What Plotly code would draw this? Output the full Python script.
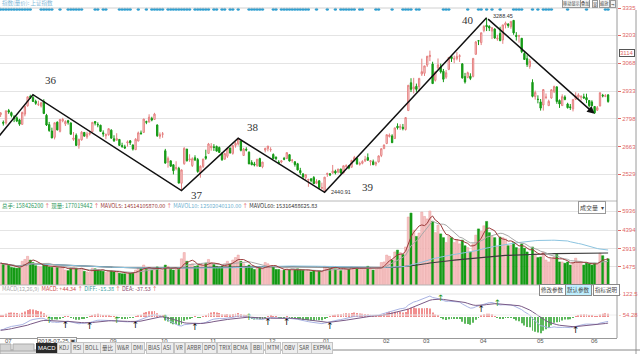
import plotly.graph_objects as go
import pandas as pd
import numpy as np

# ---------------- DATA (Shanghai Composite, 2018-07-10 .. 2019-06-14) ----------------
open_ = [
 2818,2781,2778,2838,2828,2808,2803,2793,2771,2821,2861,2906,2901,2883,2868,2860,
 2882,2815,2770,2739,2708,2782,2737,2788,2773,2789,2778,2698,2718,2670,2696,2732,2710,2724,2736,2785,2771,2767,2730,
 2716,2721,2743,2701,2694,2698,2668,2662,2681,2691,2671,2648,2690,2729,2732,2785,2782,2800,2795,
 2768,2713,2723,2643,2587,2594,2575,2557,2558,2485,2580,2651,2599,2571,2609,2600,2537,2567,
 2615,2630,2658,2662,2664,2659,2630,2602,2616,2656,2630,2669,2677,2690,2620,2650,2636,2586,2579,2571,2605,2565,
 2646,2653,2647,2625,2612,2588,2588,2606,2605,2624,2596,2589,2580,2547,2530,2512,2500,2507,2513,2485,
 2497,2461,2446,2528,2531,2535,2544,2540,2554,2535,2567,2570,2563,2596,2606,2577,2582,2594,2610,2590,2590,2578,
 2589,2620,2653,2678,2712,2715,2702,2762,2755,2757,2746,2838,2973,2943,2956,
 2954,3015,3019,3059,3100,3064,2985,3045,3049,3029,3000,3038,3100,3087,3090,3101,3065,3003,2999,3005,3004,
 3111,3177,3168,3227,3252,3247,3224,3234,3186,3212,3181,3253,3258,3245,3276,3203,3200,3189,3115,3090,3052,
 2975,2906,2893,2880,2865,2902,2862,2899,2930,2953,2887,2862,2904,2870,2856,2846,2893,2903,2904,2905,
 2901,2887,2880,2858,2840,2860,2912,2907,2914]
high = [
 2830,2790,2837,2846,2833,2816,2810,2798,2833,2862,2905,2915,2915.3,2891,2886,2879,
 2893,2822,2783,2755,2779,2785,2796,2803,2791,2793,2780,2734,2727,2702,2739,2734,2735,2740,2781,2786,2781,2769,2742,
 2727,2752,2747,2718,2728,2700,2682,2672,2693,2695,2674,2704,2736,2741,2798,2789,2820,2808,2827,
 2771,2732,2734,2652,2615,2595,2577,2592,2565,2552,2660,2652,2626,2611,2621,2608,2572,2603,
 2648,2681,2680,2675,2668,2663,2636,2633,2657,2658,2670,2686,2703.5,2691,2657,2660,2640,2597,2589,2602,2609,2589,
 2658,2666,2660,2630,2615,2597,2598,2613,2635,2625,2603,2593,2584,2560,2535,2528,2506,2508,2520,2505,
 2500,2488,2515,2536,2535,2574,2551,2555,2556,2571,2577,2574,2599,2618,2607,2590,2597,2618,2630,2597,2600,2591,
 2620,2654,2673,2721,2727,2723,2755,2776,2772,2773,2806,2961,2995,2997,2969,
 2997,3090,3055,3103,3129,3075,3027,3091,3066,3040,3035,3097,3106,3105,3122,3111,3067,3021,3027,3019,3094,
 3176,3180,3216,3252,3288.45,3252,3242,3237,3206,3245,3254,3270,3262,3271,3276,3219,3206,3190,3122,3107,3089,
 2990,2935,2912,2894,2942,2921,2891,2942,2959,2956,2892,2917,2912,2876,2870,2892,2927,2922,2913,2920,
 2920,2888,2888,2860,2860,2925,2919,2918,2918]
low = [
 2807,2765,2770,2822,2805,2782,2782,2764,2770,2810,2857,2895,2880,2866,2860,2853,
 2821,2763,2735,2704,2698,2742,2732,2781,2763,2770,2721,2691,2666,2653,2692,2711,2701,2717,2734,2766,2757,2735,2711,
 2699,2716,2703,2686,2692,2667,2657,2652,2663,2671,2644,2647,2689,2720,2729,2772,2781,2786,2793,
 2710,2701,2706,2580,2561,2565,2528,2548,2484,2449.2,2575,2591,2589,2564,2593,2536,2512,2559,
 2599,2627,2643,2642,2640,2632,2594,2600,2608,2630,2624,2658,2668,2640,2618,2640,2578,2573,2567,2565,2566,2558,
 2635,2640,2638,2603,2596,2578,2582,2597,2603,2591,2585,2566,2547,2526,2505,2501,2468,2490,2482,2481,
 2456,2455,2440.91,2516,2520,2531,2528,2533,2532,2533,2560,2553,2562,2591,2575,2571,2577,2588,2595,2571,2575,2568,
 2586,2612,2652,2675,2707,2681,2700,2746,2744,2742,2741,2838,2928,2921,2929,
 2931,3006,3006,3050,3078,2969,2979,3037,3018,2976,2992,3034,3074,3068,3082,3074,2993,2969,2995,2986,2999,
 3110,3156,3156,3218,3224,3224,3185,3187,3177,3177,3162,3237,3240,3235,3206,3178,3168,3117,3085,3050,3041,
 2902,2891,2873,2838,2838,2893,2860,2895,2923,2871,2851,2861,2888,2848,2841,2834,2889,2896,2887,2895,
 2874,2853,2860,2822,2836,2859,2902,2903,2876]
close = [
 2827,2777,2837,2831,2814,2798,2787,2772,2829,2859,2905,2903,2882,2873,2869,2876,
 2824,2768,2741,2705,2779,2744,2795,2795,2785,2781,2723,2705,2669,2698,2733,2714,2724,2729,2781,2777,2769,2737,2725,
 2721,2750,2704,2691,2702,2669,2664,2656,2686,2682,2651,2699,2730,2727,2797,2781,2806,2792,2821,
 2716,2721,2725,2583,2606,2568,2546,2561,2486,2550,2655,2594,2603,2604,2598,2542,2568,2603,
 2606,2676,2665,2659,2641,2635,2599,2630,2655,2632,2668,2679,2703,2645,2651,2646,2579,2575,2574,2602,2567,2588,
 2654,2666,2649,2605,2605,2584,2594,2602,2634,2593,2597,2576,2550,2536,2516,2527,2504,2498,2483,2494,
 2465,2464,2515,2533,2526,2545,2535,2554,2535,2570,2570,2559,2596,2610,2579,2581,2591,2601,2597,2594,2575,2585,
 2618,2653,2671,2721,2719,2682,2754,2755,2761,2751,2804,2961,2941,2953,2941,
 2994,3027,3055,3102,3106,2969,3026,3060,3026,2990,3022,3096,3090,3090,3101,3104,2997,2977,3022,2994,3091,
 3171,3176,3216,3247,3245,3239,3241,3190,3189,3177,3254,3263,3251,3271,3215,3198,3201,3124,3086,3062,3078,
 2907,2926,2892,2850,2940,2903,2883,2939,2955,2882,2870,2906,2892,2852,2853,2892,2909,2914,2905,2899,
 2890,2862,2861,2827,2852,2925,2909,2910,2882]
volume = [
 1750,1640,1580,1590,1420,1380,1350,1380,1900,2050,2300,2000,1800,1550,1480,1450,
 1650,1600,1450,1420,1550,1400,1380,1450,1200,1150,1300,1450,1350,1200,1350,1100,1050,1000,1350,1300,1200,1150,1100,
 1000,1150,1150,1050,1050,950,900,900,1000,950,950,1200,1400,1300,1600,1250,1400,1200,1350,
 1450,1200,1150,1600,1500,1250,1200,1300,1250,2100,2600,1900,1650,1700,1500,1550,1650,1550,
 1750,2050,1800,1650,1500,1450,1500,1700,1900,1700,2000,2200,2400,1900,1700,1500,1600,1350,1250,1350,1350,1300,
 1800,1700,1550,1450,1250,1250,1150,1200,1300,1200,1150,1200,1300,1250,1200,1100,1200,1050,1150,1100,
 1100,1050,1500,1450,1300,1500,1300,1250,1150,1350,1300,1250,1450,1400,1350,1250,1250,1350,1500,1250,1200,1250,
 1350,1800,1850,2400,2300,2000,2650,2800,2600,2450,3050,5450,5770,4400,3900,
 4170,5850,5500,5300,5936,5100,4200,4800,4100,3800,3400,3900,3800,3400,3650,3300,3600,3150,3000,2650,3300,
 4000,4500,4300,4750,5100,4200,3900,3800,3100,3850,3800,3700,3150,3200,3400,3000,2900,3300,2950,2650,2300,
 3050,2500,2200,2250,2650,2000,1850,2100,2250,2450,1850,1850,1750,1850,1600,1800,2150,1800,1750,1600,
 1800,1700,1600,1750,1650,2550,2350,1900,2100]
# closes before the first shown day (2018-05-28 .. 2018-07-09), used only to warm up the MACD
warmup_close = [3141,3120,3041,3095,3075,3091,3114,3115,3109,3067,3052,3079,3049,3044,3021,
                2907,2915,2875,2889,2859,2844,2813,2786,2847,2775,2786,2759,2733,2747,2815]

month_tick_idx = [0, 39, 58, 76, 98, 118, 140, 155, 176, 197, 217]
month_tick_text = ["07", "09", "10", "11", "12", "01", "02", "03", "04", "05", "06"]
price_ticks = [2529, 2663, 2798, 2933, 3068, 3203, 3335]
vol_ticks = [1475, 2919, 4394, 5936]

# zigzag wave pivots (index, price, wave number)
pivot_idx = [-2, 12, 67, 88, 120, 180, 220]
pivot_price = [2691.0, 2915.3, 2449.2, 2703.5, 2440.91, 3288.45, 2822.0]
pivot_label = ["", "36", "37", "38", "39", "40", ""]

# event-marker dots along the top
dot_idx = list(range(0, 12)) + [15,16,17,18,19,22,25,26,27,28,29,30,35,36,38,39,44,45,46,47,48,51,54,
           56,57,58,59,60,62,63,64,65,66,67,68,69,70,72,73,74,75,76,77,79,80,82,83,85,86,88,
           92,93,94,95,96,97,101,102,104,105,106,107,108,109,110,111,112,113,114,117,121,124,
           126,127,128,129,130,131,133,134,139,140,145,149,150,151,152,154,155,164,165,166,173,
           177,178,180,182,185,190,191,192,193,197,199,201,202,203,204,210,217,224,225]

N = len(close)
idx = list(range(N))

# ---------------- derived series ----------------
allc = pd.Series(warmup_close + close, dtype=float)
ema12 = allc.ewm(span=12, adjust=False).mean()
ema26 = allc.ewm(span=26, adjust=False).mean()
diff_all = ema12 - ema26
dea_all = diff_all.ewm(span=9, adjust=False).mean()
k = len(warmup_close)
diff = diff_all.iloc[k:].to_numpy()
dea = dea_all.iloc[k:].to_numpy()
hist = 2 * (diff - dea)

vs = pd.Series(volume, dtype=float)
ma5 = vs.rolling(5, min_periods=1).mean()
ma10 = vs.rolling(10, min_periods=1).mean()
ma60 = vs.rolling(60, min_periods=1).mean()
ma120 = vs.rolling(120, min_periods=1).mean()

up = [c >= o for o, c in zip(open_, close)]

# ---------------- layout geometry ----------------
W, H = 640, 354
ML, MR, MT, MB = 0, 23, 8, 16
PW, PH = W - ML - MR, H - MT - MB
X0, DX = 0.6, 2.7
FONT = "Noto Sans CJK SC"


def py(p):
    return (H - MB - p) / PH


def pxp(p):
    return (p - ML) / PW


fig = go.Figure()

# candles
fig.add_trace(go.Candlestick(
    x=idx, open=open_, high=high, low=low, close=close,
    increasing=dict(line=dict(color="#e58080", width=1), fillcolor="#fde8e8"),
    decreasing=dict(line=dict(color="#159a15", width=1), fillcolor="#159a15"),
    whiskerwidth=0, xaxis="x", yaxis="y", hoverinfo="skip"))

# top dots
fig.add_trace(go.Scatter(x=dot_idx, y=[3330] * len(dot_idx), mode="markers",
                         marker=dict(size=3.2, color="#2f9fd0", symbol="circle"), yaxis="y", cliponaxis=False,
                         hoverinfo="skip"))

# zigzag
fig.add_trace(go.Scatter(x=pivot_idx[:-1], y=pivot_price[:-1], mode="lines",
                         line=dict(color="#111", width=1.5), yaxis="y", hoverinfo="skip"))

# volume
vcol = ["#f7c4c4" if u else "#159a15" for u in up]
vline = ["#e89a9a" if u else "#159a15" for u in up]
fig.add_trace(go.Bar(x=idx, y=volume, width=0.8, marker=dict(color=vcol, line=dict(color=vline, width=0.5)),
                     yaxis="y2", hoverinfo="skip"))
for s_, c, w in [(ma120, "#3c3c3c", 1.1), (ma60, "#8cc4e0", 1), (ma10, "#a8a8a8", 1), (ma5, "#9a3a3a", 1)]:
    fig.add_trace(go.Scatter(x=idx, y=s_, mode="lines", line=dict(color=c, width=w), yaxis="y2", hoverinfo="skip"))

# MACD
hcol = ["#f08f8f" if h >= 0 else "#5cb85c" for h in hist]
fig.add_trace(go.Bar(x=idx, y=hist, width=0.35, marker=dict(color=hcol, line=dict(width=0)),
                     yaxis="y3", hoverinfo="skip"))
fig.add_trace(go.Scatter(x=idx, y=diff, mode="lines", line=dict(color="#a9b3e3", width=1), yaxis="y3", hoverinfo="skip"))
fig.add_trace(go.Scatter(x=idx, y=dea, mode="lines", line=dict(color="#7a5a86", width=1), yaxis="y3", hoverinfo="skip"))

# golden / dead crosses (keep crossings at least 5 sessions apart so the marks stay readable)
gx, gy, dx_, dy_ = [], [], [], []
last = -99
for i in range(1, N):
    a, b = diff[i - 1] - dea[i - 1], diff[i] - dea[i]
    if i - last < 5:
        continue
    if a <= 0 < b:
        gx.append(i); gy.append(diff[i]); last = i
    elif a >= 0 > b:
        dx_.append(i); dy_.append(diff[i]); last = i
fig.add_trace(go.Scatter(x=gx, y=gy, mode="text", text=["↑"] * len(gx), textposition="bottom center",
                         textfont=dict(size=9, color="#111", family="DejaVu Sans"), yaxis="y3", hoverinfo="skip"))
fig.add_trace(go.Scatter(x=dx_, y=dy_, mode="text", text=["↑"] * len(dx_), textposition="middle center",
                         textfont=dict(size=9, color="#2a9a2a", family="DejaVu Sans"), yaxis="y3", hoverinfo="skip"))

mmax = float(np.max(diff))
mmin = float(np.min(diff))
ZERO = 317
s = max(mmax / (ZERO - 296.0), -mmin / (333.0 - ZERO))
macd_range = [-s * (338 - ZERO), s * (ZERO - 285)]

tickfont = dict(size=6, color="#e06666", family="Liberation Sans")
fig.update_layout(
    width=W, height=H, margin=dict(l=ML, r=MR, t=MT, b=MB),
    paper_bgcolor="white", plot_bgcolor="white", showlegend=False, barmode="overlay",
    xaxis=dict(domain=[0, 1], range=[-X0 / DX, (PW - X0) / DX], showticklabels=False, showgrid=False,
               zeroline=False, showline=True, linecolor="#999", linewidth=1, anchor="y3",
               rangeslider=dict(visible=False), fixedrange=True),
    yaxis=dict(domain=[py(201), 1], range=[2399, 3336], side="right", anchor="x", tickvals=price_ticks,
               tickfont=tickfont, ticks="outside", ticklen=3, tickcolor="#e06666",
               showgrid=True, gridcolor="#e4e4e4", zeroline=False, showline=False),
    yaxis2=dict(domain=[py(285), py(201)], range=[0, 5936 * 84 / 74], side="right", anchor="x",
                tickvals=vol_ticks, tickfont=tickfont, ticks="outside", ticklen=3, tickcolor="#e06666",
                showgrid=True, gridcolor="#e4e4e4", zeroline=False),
    yaxis3=dict(domain=[0, py(285)], range=macd_range, side="right", anchor="x", showticklabels=False,
                showgrid=False, zeroline=False),
)

shapes = []


def hline(ypx, x0=0, x1=PW, color="#c8c8c8", width=1):
    shapes.append(dict(type="line", xref="paper", yref="paper", x0=pxp(x0), x1=pxp(x1), y0=py(ypx), y1=py(ypx),
                       line=dict(color=color, width=width)))


def vline(xpx, y0, y1, color="#999", width=1):
    shapes.append(dict(type="line", xref="paper", yref="paper", x0=pxp(xpx), x1=pxp(xpx), y0=py(y0), y1=py(y1),
                       line=dict(color=color, width=width)))


hline(8, color="#d0d0d0")
hline(201, color="#b8b8b8")
hline(285, color="#b8b8b8")
hline(294, color="#e4e4e4")
hline(315, color="#eeeeee")
vline(PW, 0, 338, color="#9a9a9a")
vline(636, 10, 354, color="#9a9a9a")
hline(350, 0, 640, color="#888")
for a, b in [(0, 11), (13, 34)]:
    shapes.append(dict(type="rect", xref="paper", yref="paper", x0=pxp(a), x1=pxp(b), y0=py(352), y1=py(344),
                       fillcolor="#d4d4d4", line=dict(color="#aaa", width=1)))
shapes.append(dict(type="rect", xref="paper", yref="paper", x0=pxp(0), x1=pxp(70), y0=py(354), y1=py(351),
                   fillcolor="#e0e0e0", line=dict(color="#aaa", width=1)))

anns = []


def ann(text, xpx, ypx, size=6, color="#333", xanchor="left", family=FONT, **kw):
    anns.append(dict(text=text, x=pxp(xpx), y=py(ypx), xref="paper", yref="paper", xanchor=xanchor,
                     yanchor="middle", showarrow=False, font=dict(size=size, color=color, family=family), **kw))


# wave labels
shifts = {"36": (18, 15), "37": (15, -4), "38": (15, 11), "39": (43, 5), "40": (-19, -2)}
for i, p, lab in zip(pivot_idx, pivot_price, pivot_label):
    if lab:
        sx, sy = shifts[lab]
        anns.append(dict(text=lab, x=i, y=p, xref="x", yref="y", showarrow=False, xshift=sx, yshift=sy,
                         font=dict(size=11, color="#333", family="Liberation Serif")))
anns.append(dict(x=pivot_idx[-1], y=pivot_price[-1], ax=pivot_idx[-2], ay=pivot_price[-2], xref="x", yref="y",
                 axref="x", ayref="y", showarrow=True, arrowhead=2, arrowsize=1, arrowwidth=1.5,
                 arrowcolor="#111", text=""))
anns.append(dict(text=f"{pivot_price[5]:.2f}", x=pivot_idx[5], y=pivot_price[5], xref="x", yref="y",
                 showarrow=False, xanchor="left", xshift=4, yshift=2,
                 font=dict(size=5.5, color="#333", family="Liberation Sans")))
anns.append(dict(text=f"{pivot_price[4]:.2f}", x=pivot_idx[4], y=pivot_price[4], xref="x", yref="y",
                 showarrow=False, xanchor="left", xshift=4, yshift=0,
                 font=dict(size=5.5, color="#333", family="Liberation Sans")))

# month labels
for i, t in zip(month_tick_idx, month_tick_text):
    anns.append(dict(text=t, x=i, y=py(341), xref="x", yref="paper", xanchor="left", yanchor="middle",
                     xshift=2, showarrow=False, font=dict(size=6, color="#555", family="Liberation Sans")))
ann("2018-07-25 ▣", 37, 341, size=6, color="#444", family="Liberation Sans",
    bgcolor="white", bordercolor="#999", borderwidth=1, borderpad=0)

# headers
ann("指数(量价): 上证指数", 0, 3, size=5.5, color="#7fb8d8")
ann('<span style="color:#2e9a5e">总手: 158426200</span><span style="color:#e04040"> ↑ </span>'
    '<span style="color:#2e9a5e">现量: 177019442</span><span style="color:#e04040"> ↑ </span>'
    '<span style="color:#9a3a3a">MAVOL5: 14514105870.00</span><span style="color:#e04040"> ↑ </span>'
    '<span style="color:#6fb0d0">MAVOL10: 12502040110.00</span><span style="color:#e04040"> ↑ </span>'
    '<span style="color:#333">MAVOL60: 15316488625.83</span>', 0, 206, size=5.5)
ann('<span style="color:#aaa">MACD(12,26,9)</span>  <span style="color:#d05050">MACD: +44.34</span>'
    '<span style="color:#e04040"> ↑ </span><span style="color:#3aa0a0">DIFF: -15.38</span>'
    '<span style="color:#e04040"> ↑ </span><span style="color:#8a4a6a">DEA: -37.53</span>'
    '<span style="color:#e04040"> ↑</span>', 0, 289, size=5.5)

# right side labels
ann("3114", 619, 53, size=6, color="#e06666", family="Liberation Sans", bordercolor="#555", borderwidth=1, borderpad=0)
ann("- 122.5", 617, 294, size=6, color="#e06666", family="Liberation Sans")
ann("- 54.28", 617, 315, size=6, color="#e06666", family="Liberation Sans")
ann("成交量  ▾", 578, 207, size=6, color="#444", bgcolor="white", bordercolor="#999", borderwidth=1, borderpad=1)

# top-right buttons
for t, x in [("移动显示", 562), ("叠加", 580), ("显", 592), ("缩放", 599), ("⇥", 610)]:
    ann(t, x, 4, size=4.2, color="#444", bgcolor="#f4f4f4", bordercolor="#999", borderwidth=1, borderpad=0)

# macd buttons
ann("修改参数", 539, 290, size=5.5, color="#444", bgcolor="white", bordercolor="#888", borderwidth=1, borderpad=1)
ann("默认参数", 565, 290, size=5.5, color="#444", bgcolor="#bfefff", bordercolor="#888", borderwidth=1, borderpad=1)
ann("指标说明", 593, 290, size=5.5, color="#444", bgcolor="white", bordercolor="#888", borderwidth=1, borderpad=1)

# bottom indicator tabs
ann("MACD", 36, 348, size=6, color="white", family="Liberation Sans", bgcolor="#2a2a2a",
    bordercolor="#2a2a2a", borderwidth=1, borderpad=1)
tabs = [("KDJ", 57), ("RSI", 71), ("BOLL", 83), ("量比", 100), ("W&R", 115), ("DMI", 131), ("BIAS", 146),
        ("ASI", 161), ("VR", 174), ("ARBR", 185), ("DPO", 202), ("TRIX", 217), ("BCMA", 231), ("BBI", 251),
        ("MTM", 265), ("OBV", 282), ("SAR", 297), ("EXPMA", 311)]
for t, x in tabs:
    ann(t, x, 348, size=5.5, color="#555", family=FONT, bgcolor="#ededed", bordercolor="#c4c4c4",
        borderwidth=1, borderpad=1)

fig.update_layout(shapes=shapes, annotations=anns)
fig.write_html("out.html")
